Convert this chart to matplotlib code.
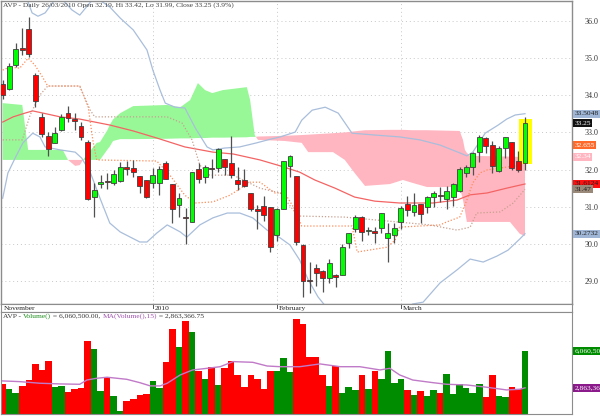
import numpy as np
import matplotlib
matplotlib.use("Agg")
import matplotlib.pyplot as plt
from matplotlib.patches import Rectangle
from matplotlib.transforms import blended_transform_factory

plt.rcParams['font.family'] = ['Liberation Serif', 'DejaVu Serif']

# daily candles, 30 Nov 2009 .. 26 Mar 2010
opens = [34.30, 34.17, 34.82, 35.27, 35.78, 34.55, 33.42, 32.90, 32.72, 33.07,
         33.52, 33.36, 33.17, 32.74, 31.26, 31.60, 31.68, 31.64, 31.69, 32.06,
         32.04, 31.83, 31.72, 31.64, 31.64, 32.18, 31.61, 31.05, 30.73, 30.59,
         32.01, 31.80, 32.04, 32.04, 32.28, 32.18, 31.72, 31.72, 31.37, 30.94,
         31.02, 30.99, 30.24, 30.94, 32.10, 31.83, 29.97, 29.02, 29.35, 29.27,
         29.08, 29.16, 29.16, 30.02, 30.40, 30.72, 30.34, 30.35, 30.43, 30.16,
         30.24, 30.59, 31.07, 30.86, 31.07, 30.99, 31.26, 31.32, 31.21, 31.26,
         31.42, 31.91, 32.07, 32.47, 32.85, 32.66, 31.96, 32.58, 32.74, 32.23,
         32.19]
highs = [34.41, 34.87, 35.41, 35.81, 36.11, 34.60, 33.52, 33.01, 33.15, 33.50,
         33.71, 33.52, 33.28, 32.80, 31.64, 31.85, 31.91, 31.99, 32.20, 32.23,
         32.26, 31.83, 31.72, 32.04, 32.10, 32.23, 31.61, 31.37, 30.96, 31.93,
         32.18, 32.12, 32.28, 32.58, 32.28, 32.90, 32.07, 32.02, 31.37, 31.05,
         31.29, 30.99, 30.96, 32.23, 32.39, 31.83, 30.00, 29.51, 29.46, 29.30,
         29.59, 29.19, 29.99, 30.29, 30.78, 30.75, 30.46, 30.45, 30.83, 30.56,
         30.56, 31.02, 31.29, 31.37, 31.07, 31.29, 31.42, 31.53, 31.56, 31.64,
         32.07, 32.12, 32.47, 32.93, 32.88, 32.77, 32.63, 32.88, 32.74, 32.50,
         33.42]
lows = [33.90, 34.14, 34.76, 35.08, 35.03, 33.68, 32.88, 32.37, 32.72, 33.04,
        33.28, 33.07, 32.80, 31.18, 30.72, 31.50, 31.48, 31.58, 31.66, 31.85,
        31.80, 31.37, 31.23, 31.50, 31.32, 31.75, 30.56, 30.72, 30.00, 30.59,
        31.64, 31.64, 31.77, 31.93, 31.85, 31.77, 31.45, 31.53, 30.88, 30.40,
        30.62, 29.78, 30.08, 30.94, 31.80, 29.97, 28.57, 28.68, 28.86, 28.70,
        28.95, 28.84, 29.16, 29.89, 30.32, 30.08, 30.24, 30.02, 30.29, 29.51,
        30.02, 30.40, 30.75, 30.75, 30.56, 30.83, 30.99, 31.13, 30.94, 31.02,
        31.40, 31.80, 31.85, 32.20, 32.45, 31.91, 31.93, 32.31, 31.99, 31.93,
        31.99]
closes = [34.01, 34.79, 35.25, 35.23, 35.11, 33.85, 32.96, 32.55, 32.98, 33.42,
          33.39, 33.31, 32.88, 31.21, 31.45, 31.66, 31.66, 31.88, 32.07, 32.02,
          31.93, 31.56, 31.26, 31.85, 32.02, 31.75, 30.94, 31.23, 30.70, 31.93,
          31.75, 32.07, 32.01, 32.55, 32.07, 31.85, 31.61, 31.56, 30.94, 30.88,
          30.78, 29.91, 30.94, 32.23, 32.37, 30.05, 29.00, 29.00, 29.21, 29.08,
          29.48, 29.11, 29.91, 30.29, 30.72, 30.32, 30.36, 30.28, 30.83, 30.29,
          30.43, 30.96, 30.91, 31.05, 30.80, 31.26, 31.37, 31.30, 31.42, 31.61,
          32.02, 32.07, 32.45, 32.88, 32.63, 32.10, 32.58, 32.88, 32.04, 31.99,
          33.25]
# volume in millions
volume = [3.17, 2.74, 2.45, 3.00, 3.54, 4.93, 4.41, 5.21, 2.96, 3.03,
          2.48, 2.77, 2.83, 6.91, 6.20, 2.57, 3.83, 2.16, 0.86, 1.75,
          1.88, 2.27, 2.36, 3.43, 2.85, 5.07, 7.93, 6.40, 8.67, 7.72,
          4.32, 3.63, 4.64, 3.09, 4.55, 5.19, 3.98, 2.91, 3.98, 3.60,
          2.77, 4.35, 4.35, 5.42, 4.26, 8.82, 8.36, 5.51, 5.51, 3.98,
          3.03, 4.78, 2.45, 2.91, 2.68, 3.95, 2.74, 4.32, 3.66, 6.05,
          3.31, 3.66, 2.68, 2.27, 2.59, 2.19, 2.68, 2.45, 4.06, 2.33,
          3.17, 2.83, 2.39, 3.17, 2.10, 3.98, 2.16, 2.05, 2.91, 2.77,
          6.0605]

# overlays: bar position -> value
bbu_x = [0, 3.5, 4.5, 5.4, 6.5, 8.5, 10.6, 11.8, 14.1, 16.4, 18.0, 20.0, 22.1, 23.0,
         24.1, 24.9, 26.4, 27.9, 29.5, 31.3, 32.2, 34.0, 36.3, 38.9, 40.6, 42.5,
         44.8, 45.8, 47.4, 49.4, 51.4, 53.5, 57.0, 60.8, 63.9, 67.0, 70.0, 71.1,
         72.0, 73.9, 75.9, 77.2, 78.5, 80]
bb_upper = [36.8, 36.7, 36.22, 36.13, 36.22, 36.7, 36.30, 36.16, 36.65, 36.38, 36.08,
            35.76, 35.22, 34.68, 34.14, 33.79, 33.68, 33.66, 33.12, 32.61, 32.53,
            32.58, 32.61, 32.72, 32.80, 32.88, 33.01, 33.33, 33.60, 33.68, 33.52,
            32.98, 32.93, 32.88, 32.80, 32.66, 32.45, 32.37, 32.47, 32.98, 33.20,
            33.36, 33.47, 33.5048]
bbl_x = [0, 0.8, 1.9, 3.1, 4.6, 5.7, 6.5, 8.8, 11.1, 12.1, 13.4, 14.9, 16.4, 18.0,
         21.0, 22.1, 23.6, 25.2, 27.2, 28.2, 30.2, 32.2, 34.4, 36.3, 38.3, 40.5,
         42.5, 44.0, 45.5, 46.8, 48.3, 49.4, 52.4, 56.2, 60.1, 62.8, 64.4, 67.0,
         69.6, 71.6, 73.6, 75.7, 77.4, 79.2, 80]
bb_lower = [31.23, 31.91, 32.31, 32.72, 32.98, 32.88, 32.61, 32.53, 32.47, 32.31,
            31.93, 31.23, 30.56, 30.32, 30.05, 30.05, 30.29, 30.51, 30.32, 30.18,
            30.51, 30.70, 30.83, 30.83, 30.70, 30.37, 30.16, 29.97, 29.56, 29.03,
            28.57, 28.33, 28.0, 27.9, 28.1, 28.38, 28.43, 28.95, 29.30, 29.59,
            29.51, 29.67, 29.83, 30.13, 30.2732]
ma_x = [0, 1.6, 3.4, 4.6, 6.2, 8.8, 11.8, 14.1, 16.4, 20.0, 23.6, 27.9, 32.2, 35.3,
        39.4, 42.5, 45.5, 47.8, 50.9, 53.9, 57.0, 60.8, 65.9, 69.6, 71.6, 74.2,
        77.2, 80]
ma = [33.28, 33.42, 33.52, 33.58, 33.52, 33.42, 33.36, 33.28, 33.20, 33.04, 32.85,
      32.61, 32.47, 32.42, 32.26, 32.10, 31.93, 31.72, 31.50, 31.26, 31.15, 31.10,
      31.10, 31.18, 31.32, 31.37, 31.50, 31.6124]
tk_x = [0, 1.1, 2.6, 3.9, 4.9, 6.0, 6.9, 11.8, 13.1, 13.8, 14.4, 23.6, 25.6, 27.9,
        29.5, 32.2, 34.8, 37.9, 39.4, 41.7, 43.2, 44.8, 45.8, 53.5, 54.3, 58.9,
        60.1, 60.8, 67.0, 68.0, 70.0, 71.1, 72.0, 73.1, 74.2, 78.5, 79.2, 80]
tenkan = [34.68, 34.76, 34.73, 35.00, 34.82, 34.52, 34.25, 34.25, 33.68, 32.80,
          32.26, 32.23, 31.85, 31.31, 31.10, 31.13, 31.31, 31.66, 31.66, 31.37,
          31.37, 30.91, 30.48, 30.48, 29.78, 29.91, 30.10, 30.45, 30.51, 30.59,
          30.72, 31.18, 31.64, 31.91, 31.99, 32.10, 32.26, 32.655]
kj_x = [0, 3.0, 4.2, 5.7, 6.9, 11.8, 13.4, 14.1, 25.2, 27.5, 29.0, 30.2, 31.7, 35.3,
        39.4, 42.5, 45.2, 52.4, 65.4, 69.6, 71.6, 72.6, 76.2, 78.2, 80]
kijun = [32.80, 32.80, 33.47, 34.01, 34.25, 34.25, 33.60, 33.42, 33.42, 33.25,
         32.80, 32.12, 31.85, 31.85, 31.50, 31.37, 30.75, 30.72, 30.51, 30.37,
         30.45, 30.83, 30.86, 31.10, 31.47]
cloud_x = [0, 3.0, 3.4, 3.9, 9.2, 10.0, 11.1, 11.8, 12.5, 14.4, 14.9, 16.0, 16.4,
           16.9, 18.0, 20.0, 25.2, 27.2, 28.7, 29.9, 31.0, 32.1, 33.7, 37.4, 37.9,
           38.6, 39.1, 43.2, 45.8, 46.8, 50.6, 52.4, 53.9, 55.5, 59.3, 61.3, 62.8,
           65.0, 70.0, 70.5, 70.8, 71.1, 71.6, 77.7, 79.2, 80]
span_a = [33.79, 33.74, 33.20, 32.53, 32.53, 32.26, 32.10, 32.12, 32.31, 32.72,
          32.74, 33.05, 33.20, 33.35, 33.52, 33.71, 33.74, 33.68, 33.87, 34.33,
          34.14, 34.06, 34.14, 34.22, 33.87, 32.93, 32.80, 32.77, 32.72, 32.47,
          32.47, 32.26, 31.91, 31.56, 31.61, 31.72, 31.64, 31.53, 31.53, 31.18,
          30.90, 30.59, 30.59, 30.59, 30.27, 30.21]
span_b = [32.26, 32.26, 32.26, 32.26, 32.26, 32.26, 32.26, 32.26, 32.26, 32.26,
          32.26, 32.53, 32.62, 32.77, 32.82, 32.82, 32.83, 32.84, 32.84, 32.85,
          32.85, 32.86, 32.86, 32.87, 32.88, 32.88, 32.89, 32.91, 32.93, 32.94,
          32.98, 33.00, 33.03, 33.06, 33.07, 33.07, 33.06, 33.06, 33.04, 32.80,
          32.53, 32.45, 32.37, 32.35, 32.34, 32.34]
vma_x = [0, 2.6, 5.7, 8.8, 11.8, 12.9, 14.4, 16.0, 19.0, 21.0, 22.6, 24.1, 25.2,
         27.2, 29.1, 31.3, 33.3, 35.3, 38.3, 40.5, 42.5, 45.5, 48.6, 51.7, 54.7,
         57.8, 59.3, 60.8, 62.8, 65.9, 68.0, 71.1, 74.2, 77.2, 79.2, 80]
vol_ma = [3.46, 3.40, 3.26, 3.20, 3.17, 3.54, 3.69, 3.78, 3.60, 3.31, 3.03, 3.03,
          3.26, 3.98, 4.41, 4.55, 4.69, 5.13, 5.07, 4.75, 4.69, 4.69, 4.93, 4.69,
          4.69, 4.41, 4.55, 3.98, 3.54, 3.31, 3.17, 3.11, 2.91, 2.68, 2.74, 2.8634]

month_labels = ['November', '2010', 'February', 'March']
month_pos = [-0.2, 23, 42, 61]
price_ticks = [29.0, 30.0, 31.0, 32.0, 33.0, 34.0, 35.0, 36.0]

title = 'AVP - Daily 26/03/2010 Open 32.19, Hi 33.42, Lo 31.99, Close 33.25 (3.9%)'

W, H = 600, 416
fig = plt.figure(figsize=(W / 100, H / 100), dpi=100)
ax = fig.add_axes([1 / W, 112 / H, 571 / W, 303 / H])
ax_d = fig.add_axes([1 / W, 104 / H, 571 / W, 8 / H])
ax_v = fig.add_axes([1 / W, 2 / H, 571 / W, 102 / H])

xl = (-0.26, 87.2)
edge = '#8c8c8c'
grid_c = '#c8c8c8'
fs = 5.4

# ---- price panel
x = np.arange(len(opens))
o = np.array(opens); c = np.array(closes)
up = c >= o

ax.fill_between(cloud_x, span_a, span_b, where=np.array(span_a) >= np.array(span_b),
                interpolate=True, color='#98f898', lw=0, zorder=1)
ax.fill_between(cloud_x, span_a, span_b, where=np.array(span_a) < np.array(span_b),
                interpolate=True, color='#ffb6c1', lw=0, zorder=1)

for p in price_ticks:
    ax.axhline(p, color=grid_c, lw=0.7, ls=(0, (1, 3)), zorder=0)
for p in month_pos[1:]:
    ax.axvline(p, color=grid_c, lw=0.7, ls=(0, (1, 3)), zorder=0)

ax.plot(bbu_x, bb_upper, color='#a9bedb', lw=0.9, zorder=2)
ax.plot(bbl_x, bb_lower, color='#a9bedb', lw=0.9, zorder=2)
ax.plot(ma_x, ma, color='#f46464', lw=0.9, zorder=2)
ax.plot(tk_x, tenkan, color='#ff8c5a', lw=0.9, ls=(0, (1, 1.5)), zorder=2)
ax.plot(kj_x, kijun, color='#c8a090', lw=0.9, ls=(0, (1, 1.5)), zorder=2)

# highlight on the last bar
ax.add_patch(Rectangle((79.1, 32.14), 1.9, 1.21, color='#ffff00', lw=0, zorder=2.5))

ax.vlines(x, lows, highs, color='#505050', lw=0.9, zorder=3)
body_h = np.maximum(np.abs(c - o), 0.012)
ax.bar(x, body_h, bottom=np.minimum(o, c), width=0.75,
       color=np.where(up, '#00ff00', '#ff0000'), edgecolor='#404040', lw=0.6, zorder=4)

ax.set_xlim(*xl)
ax.set_ylim(28.38, 36.54)
ax.set_xticks([])
ax.yaxis.tick_right()
ax.set_yticks(price_ticks)
ax.set_yticklabels(['%.1f' % p for p in price_ticks], fontsize=fs + 0.4, color='#333333')
ax.tick_params(axis='y', length=0, pad=9)
for s in ax.spines.values():
    s.set_color(edge)
    s.set_linewidth(1)
ax.text(0.004, 0.997, title, transform=ax.transAxes, ha='left', va='top',
        fontsize=fs, color='#404040')

tr = blended_transform_factory(ax.transAxes, ax.transData)
tags = [('33.5048', 33.5048, '#9fb6d6', '#202020'),
        ('33.25', 33.25, '#111111', 'white'),
        ('32.655', 32.655, '#ff6a2a', 'white'),
        ('32.34', 32.34, '#ffb6c1', 'white'),
        ('31.6124', 31.6124, '#ff1010', '#202020'),
        ('31.47', 31.47, '#9a8878', '#202020'),
        ('30.2732', 30.2732, '#9fb6d6', '#202020')]
for txt, val, bg, fg in tags:
    ax.text(1.004, val, txt, transform=tr, ha='left', va='center', fontsize=fs,
            color=fg, bbox=dict(boxstyle='square,pad=0.2', fc=bg, ec='none'),
            clip_on=False)

# ---- date strip
ax_d.set_xlim(*xl)
ax_d.set_ylim(0, 1)
ax_d.set_xticks([]); ax_d.set_yticks([])
for s in ax_d.spines.values():
    s.set_color(edge)
for lab, p in zip(month_labels, month_pos):
    ax_d.plot([p, p], [0.45, 1], color='#555555', lw=0.7)
    ax_d.annotate(lab, xy=(p, 0.45), xytext=(1.5, 0), textcoords='offset points',
                  ha='left', va='center', fontsize=fs, color='#222222',
                  annotation_clip=False)

# ---- volume panel
vcol = np.where(up, '#008c00', '#ff0000')
ax_v.bar(x, volume, width=1.0, color=vcol, lw=0, zorder=2)
ax_v.plot(vma_x, vol_ma, color='#c07ac8', lw=1.0, zorder=3)
ax_v.set_xlim(*xl)
ax_v.set_ylim(0.60, 9.42)
ax_v.set_xticks([]); ax_v.set_yticks([])
for s in ax_v.spines.values():
    s.set_color(edge)

parts = [('AVP - ', '#333333'), ('Volume()', '#1a8c1a'),
         (' = 6,060,500.00, ', '#333333'), ('MA(Volume(),15)', '#a050b0'),
         (' = 2,863,366.75', '#333333')]
prev = ax_v.text(0.004, 0.985, parts[0][0], transform=ax_v.transAxes, ha='left',
                 va='top', fontsize=fs, color=parts[0][1])
for txt, col in parts[1:]:
    prev = ax_v.annotate(txt, xy=(1, 0), xycoords=prev, ha='left', va='bottom',
                         fontsize=fs, color=col)

trv = blended_transform_factory(ax_v.transAxes, ax_v.transData)
ax_v.text(1.004, volume[-1], '6,060,500', transform=trv, ha='left', va='center',
          fontsize=fs, color='white', clip_on=False,
          bbox=dict(boxstyle='square,pad=0.2', fc='#008c00', ec='none'))
ax_v.text(1.004, vol_ma[-1], '2,863,366', transform=trv, ha='left', va='center',
          fontsize=fs, color='white', clip_on=False,
          bbox=dict(boxstyle='square,pad=0.2', fc='#8b1a8b', ec='none'))

fig.savefig('out.png', dpi=100)
